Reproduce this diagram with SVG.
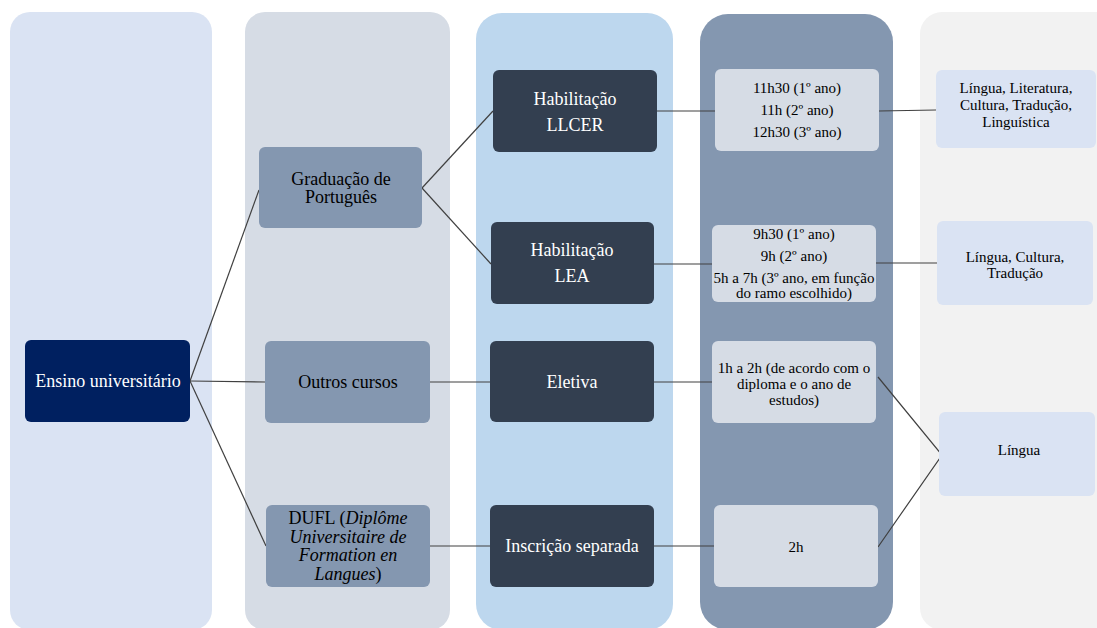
<svg xmlns="http://www.w3.org/2000/svg" width="1097" height="628" viewBox="0 0 1097 628" font-family="'Liberation Serif', 'Times New Roman', Tinos, 'DejaVu Serif', serif">
<style>
text{font-family:'Liberation Serif','Times New Roman',Tinos,'DejaVu Serif',serif;text-anchor:middle}
.t{font-size:18px}
.s{font-size:15px}
.w{fill:#ffffff}
.k{fill:#000000}
.c line,.c polyline{stroke:#404040;stroke-width:1.2;fill:none}
</style>
<rect width="1097" height="628" fill="#ffffff"/>
<g id="columns">
<rect x="10" y="12" width="202" height="618" rx="20" fill="#dae3f3"/>
<rect x="245" y="12" width="205" height="618" rx="20" fill="#d6dce5"/>
<rect x="476" y="13" width="197" height="617" rx="26" fill="#bdd7ee"/>
<rect x="700" y="14" width="193" height="616" rx="28" fill="#8497b0"/>
<rect x="920" y="12" width="200" height="618" rx="22" fill="#f2f2f2"/>
</g>
<g class="c" id="connectors">
<line x1="190" y1="381" x2="259" y2="190"/>
<line x1="190" y1="381" x2="265" y2="382"/>
<line x1="190" y1="381" x2="266" y2="546"/>
<line x1="422" y1="188" x2="493" y2="111"/>
<line x1="422" y1="188" x2="491" y2="264"/>
<line x1="430" y1="382" x2="490" y2="382"/>
<line x1="430" y1="546" x2="490" y2="546"/>
<line x1="657" y1="111" x2="715" y2="111"/>
<line x1="654" y1="264" x2="712" y2="264"/>
<line x1="654" y1="382" x2="712" y2="382"/>
<line x1="654" y1="546" x2="714" y2="546"/>
<line x1="879" y1="111" x2="936" y2="110"/>
<line x1="876" y1="263" x2="937" y2="263"/>
<polyline points="878,377 942,455 878,547"/>
</g>
<g id="n-ensino">
<rect x="25" y="340" width="165" height="82" rx="6" fill="#002060"/>
<text class="t w" x="108" y="387">Ensino universitário</text>
</g>
<g id="n-graduacao">
<rect x="259" y="147" width="163" height="81" rx="6" fill="#8497b0"/>
<text class="t k" x="341" y="185">Graduação de</text>
<text class="t k" x="341" y="203">Português</text>
</g>
<g id="n-outros">
<rect x="265" y="341" width="165" height="82" rx="6" fill="#8497b0"/>
<text class="t k" x="348" y="388">Outros cursos</text>
</g>
<g id="n-dufl">
<rect x="266" y="505" width="164" height="82" rx="6" fill="#8497b0"/>
<text class="t k" x="348" y="524">DUFL (<tspan font-style="italic">Diplôme</tspan></text>
<text class="t k" x="348" y="543" font-style="italic">Universitaire de</text>
<text class="t k" x="348" y="561" font-style="italic">Formation en</text>
<text class="t k" x="348" y="580"><tspan font-style="italic">Langues</tspan>)</text>
</g>
<g id="n-llcer">
<rect x="493" y="70" width="164" height="82" rx="6" fill="#333f50"/>
<text class="t w" x="575" y="105">Habilitação</text>
<text class="t w" x="575" y="131">LLCER</text>
</g>
<g id="n-lea">
<rect x="491" y="222" width="163" height="82" rx="6" fill="#333f50"/>
<text class="t w" x="572" y="256">Habilitação</text>
<text class="t w" x="572" y="282">LEA</text>
</g>
<g id="n-eletiva">
<rect x="490" y="341" width="164" height="81" rx="6" fill="#333f50"/>
<text class="t w" x="572" y="388">Eletiva</text>
</g>
<g id="n-inscricao">
<rect x="490" y="505" width="164" height="82" rx="6" fill="#333f50"/>
<text class="t w" x="572" y="552">Inscrição separada</text>
</g>
<g id="n-h-llcer">
<rect x="715" y="69" width="164" height="82" rx="6" fill="#d6dce5"/>
<text class="s k" x="797" y="93">11h30 (1º ano)</text>
<text class="s k" x="797" y="115">11h (2º ano)</text>
<text class="s k" x="797" y="137">12h30 (3º ano)</text>
</g>
<g id="n-h-lea">
<rect x="712" y="225" width="164" height="77" rx="6" fill="#d6dce5"/>
<text class="s k" x="794" y="239">9h30 (1º ano)</text>
<text class="s k" x="794" y="261">9h (2º ano)</text>
<text class="s k" x="794" y="283">5h a 7h (3º ano, em função</text>
<text class="s k" x="794" y="298">do ramo escolhido)</text>
</g>
<g id="n-h-eletiva">
<rect x="712" y="341" width="164" height="82" rx="6" fill="#d6dce5"/>
<text class="s k" x="794" y="373">1h a 2h (de acordo com o</text>
<text class="s k" x="794" y="389">diploma e o ano de</text>
<text class="s k" x="794" y="405">estudos)</text>
</g>
<g id="n-h-dufl">
<rect x="714" y="505" width="164" height="82" rx="6" fill="#d6dce5"/>
<text class="s k" x="796" y="552">2h</text>
</g>
<g id="n-c-llcer">
<rect x="936" y="70" width="160" height="78" rx="6" fill="#dae3f3"/>
<text class="s k" x="1016" y="93">Língua, Literatura,</text>
<text class="s k" x="1016" y="110">Cultura, Tradução,</text>
<text class="s k" x="1016" y="127">Linguística</text>
</g>
<g id="n-c-lea">
<rect x="937" y="221" width="156" height="84" rx="6" fill="#dae3f3"/>
<text class="s k" x="1015" y="262">Língua, Cultura,</text>
<text class="s k" x="1015" y="278">Tradução</text>
</g>
<g id="n-c-lingua">
<rect x="939" y="412" width="156" height="84" rx="6" fill="#dae3f3"/>
<text class="s k" x="1019" y="455">Língua</text>
</g>
</svg>
